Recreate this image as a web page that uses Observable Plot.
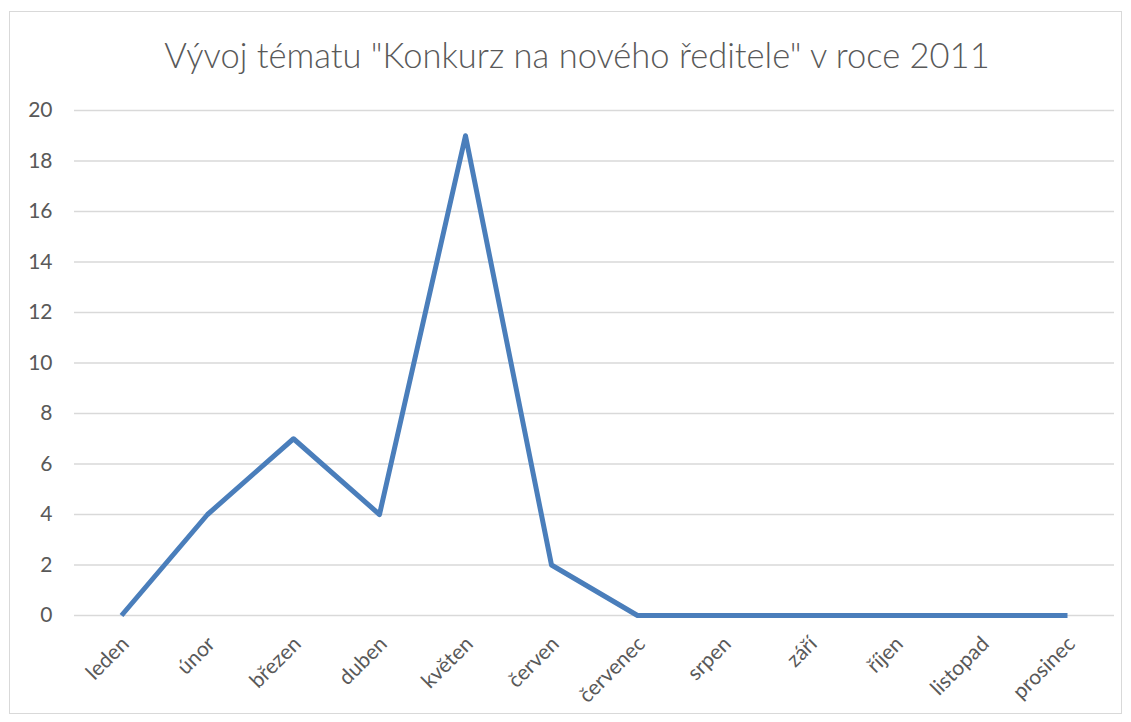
<!DOCTYPE html>
<html><head><meta charset="utf-8">
<script src="https://cdn.jsdelivr.net/npm/d3@7"></script>
<script src="https://cdn.jsdelivr.net/npm/@observablehq/plot@0.6"></script>
<style>
body{margin:0;background:#fff;font-family:Lato,"Open Sans",sans-serif;}
#frame{position:absolute;left:9px;top:11px;width:1111px;height:701px;border:1.5px solid #d9d9d9;}
#title{position:absolute;left:0;top:34px;width:1154px;text-align:center;font-size:34.5px;font-weight:300;color:#595959;}
#chart{position:absolute;left:0;top:90px;}
</style></head>
<body>
<div id="frame"></div>
<div id="title">Vývoj tématu "Konkurz na nového ředitele" v roce 2011</div>
<div id="chart"></div>
<script>
const months = ["leden","únor","březen","duben","květen","červen","červenec","srpen","září","říjen","listopad","prosinec"];
const counts = [0,4,7,4,19,2,0,0,0,0,0,0];
const yTicks = [0,2,4,6,8,10,12,14,16,18,20];
const data = months.map((m,i)=>({month:m,count:counts[i]}));
const plot = Plot.plot({
  width:1131, height:625,
  marginLeft:74, marginRight:17, marginTop:20, marginBottom:100,
  style:{fontFamily:"Lato, 'Open Sans', sans-serif", fontSize:"21px", color:"#595959", background:"transparent"},
  x:{type:"point", domain:months, padding:0.5, label:null},
  y:{domain:[0,20], ticks:yTicks, label:null},
  marks:[
    Plot.gridY(yTicks,{stroke:"#d9d9d9", strokeOpacity:1, strokeWidth:1.5}),
    Plot.axisY({ticks:yTicks, tickSize:0, tickPadding:22, label:null, fontSize:21}),
    Plot.axisX({tickSize:0, tickRotate:-45, tickPadding:25, dx:4, label:null, fontSize:21}),
    Plot.line(data,{x:"month", y:"count", stroke:"#4a7ebb", strokeWidth:5, strokeLinejoin:"round", strokeLinecap:"butt"})
  ]
});
document.getElementById("chart").appendChild(plot);
</script>
</body></html>
